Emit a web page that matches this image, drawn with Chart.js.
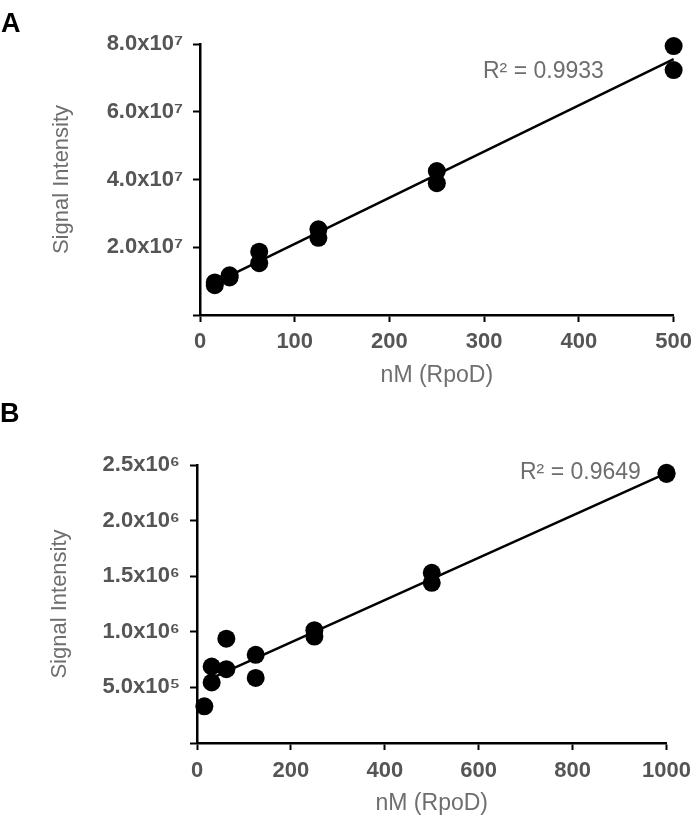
<!DOCTYPE html>
<html><head><meta charset="utf-8">
<script src="https://cdn.jsdelivr.net/npm/chart.js@4/dist/chart.umd.min.js"></script>
<style>
html,body{margin:0;padding:0;background:#fff;}
#wrap{position:relative;width:699px;height:820px;overflow:hidden;font-family:"Liberation Sans",Arial,sans-serif;}
canvas{position:absolute;left:0;}
.panel{position:absolute;font-weight:bold;font-size:27px;line-height:1;color:#000;}
.r2{position:absolute;font-size:23px;line-height:1;color:#6e6e6e;white-space:nowrap;}
</style></head><body>
<div id="wrap">
<canvas id="cA" width="699" height="400" style="top:0"></canvas>
<canvas id="cB" width="699" height="420" style="top:400px"></canvas>
<div class="panel" style="left:1px;top:10px">A</div>
<div class="panel" style="left:0px;top:400px">B</div>
<div class="r2" style="left:483px;top:59px">R² = 0.9933</div>
<div class="r2" style="left:520px;top:460px">R² = 0.9649</div>
</div>
<script>
// ---- Panel A data ----
const concA = [15.625, 15.625, 31.25, 31.25, 62.5, 62.5, 125, 125, 250, 250, 500, 500];
const signalA = [0.96e7, 0.88e7, 1.17e7, 1.11e7, 1.87e7, 1.53e7, 2.53e7, 2.28e7, 4.25e7, 3.89e7, 7.94e7, 7.23e7];
const xTicksA = [0, 100, 200, 300, 400, 500];
const yTicksA = [0, 2e7, 4e7, 6e7, 8e7];

// ---- Panel B data ----
const concB = [15.625, 31.25, 31.25, 62.5, 62.5, 125, 125, 250, 250, 500, 500, 1000, 1000];
const signalB = [3.3e5, 5.44e5, 6.88e5, 9.38e5, 6.64e5, 7.93e5, 5.85e5, 1.015e6, 9.57e5, 1.53e6, 1.44e6, 2.43e6, 2.42e6];
const xTicksB = [0, 200, 400, 600, 800, 1000];
const yTicksB = [0, 5e5, 1e6, 1.5e6, 2e6, 2.5e6];

const xTitle = 'nM (RpoD)';
const yTitle = 'Signal Intensity';

const SUP = '⁰¹²³⁴⁵⁶⁷⁸⁹';
function sci(v) {
  if (v === 0) return '';
  const e = Math.floor(Math.log10(v) + 1e-9);
  const m = v / Math.pow(10, e);
  return m.toFixed(1) + 'x10' + String(e).split('').map(d => SUP[+d]).join('');
}
function fitLine(xs, ys) {
  const n = xs.length;
  const mx = xs.reduce((a, b) => a + b, 0) / n;
  const my = ys.reduce((a, b) => a + b, 0) / n;
  let sxy = 0, sxx = 0;
  for (let i = 0; i < n; i++) { sxy += (xs[i] - mx) * (ys[i] - my); sxx += (xs[i] - mx) ** 2; }
  const b = sxy / sxx, a = my - b * mx;
  const x0 = Math.min(...xs), x1 = Math.max(...xs);
  return [{x: x0, y: a + b * x0}, {x: x1, y: a + b * x1}];
}

Chart.defaults.font.family = "'Liberation Sans', Arial, sans-serif";
const TICK_COLOR = '#555555';
const TITLE_COLOR = '#6e6e6e';

function makeChart(id, xs, ys, xTicks, yTicks, g) {
  const pts = xs.map((x, i) => ({x, y: ys[i]}));
  return new Chart(document.getElementById(id), {
    type: 'scatter',
    data: {
      datasets: [
        {data: pts, backgroundColor: '#000', borderWidth: 0, pointRadius: 9, pointHoverRadius: 9, clip: false},
        {type: 'line', data: fitLine(xs, ys), borderColor: '#000', borderWidth: 2.5, pointRadius: 0, showLine: true, fill: false, clip: false}
      ]
    },
    options: {
      responsive: false, animation: false, devicePixelRatio: 1,
      layout: {padding: {left: 0, top: g.top, right: g.right, bottom: 0}},
      plugins: {legend: {display: false}, tooltip: {enabled: false}},
      scales: {
        x: {
          type: 'linear', position: 'bottom',
          min: xTicks[0], max: xTicks[xTicks.length - 1],
          afterBuildTicks: s => { s.ticks = xTicks.map(v => ({value: v})); },
          afterFit: s => { s.height = g.xH; },
          ticks: {color: TICK_COLOR, font: {size: 22, weight: 'bold'}, padding: g.xPad, maxRotation: 0, autoSkip: false, callback: v => String(v)},
          grid: {display: true, drawOnChartArea: false, drawTicks: true, tickLength: 7, tickWidth: 2, color: '#000'},
          border: {display: true, color: '#000', width: 2.5},
          title: {display: true, text: xTitle, color: TITLE_COLOR, font: {size: 23}, padding: {top: 0, bottom: g.xTitlePad}}
        },
        y: {
          type: 'linear',
          min: yTicks[0], max: yTicks[yTicks.length - 1],
          afterBuildTicks: s => { s.ticks = yTicks.map(v => ({value: v})); },
          afterFit: s => { s.width = g.yW; },
          ticks: {color: TICK_COLOR, font: {size: 22, weight: 'bold'}, padding: 10, callback: v => sci(v)},
          grid: {display: true, drawOnChartArea: false, drawTicks: true, tickLength: 7, tickWidth: 2, color: '#000'},
          border: {display: true, color: '#000', width: 2.5},
          title: {display: true, text: yTitle, color: TITLE_COLOR, font: {size: 22}, padding: {top: g.yTitlePad, bottom: 0}}
        }
      }
    }
  });
}

makeChart('cA', concA, signalA, xTicksA, yTicksA, {top: 44, right: 20, xH: 85, xPad: 7, xTitlePad: 11, yW: 200, yTitlePad: 49});
makeChart('cB', concB, signalB, xTicksB, yTicksB, {top: 65, right: 28, xH: 77, xPad: 8, xTitlePad: 3, yW: 197, yTitlePad: 47});
</script>
</body></html>
